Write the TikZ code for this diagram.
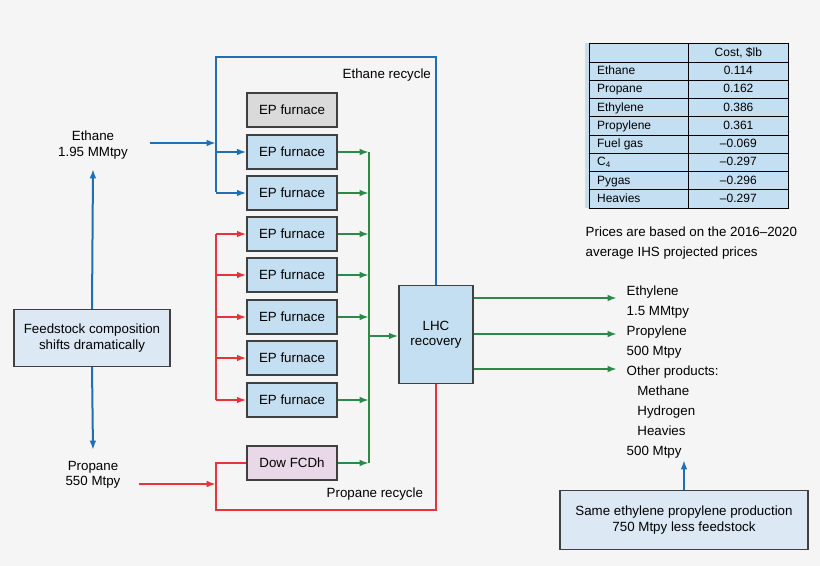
\documentclass[tikz,border=0pt]{standalone}
\usepackage{fontspec}
\setmainfont{Liberation Sans}
\usepackage{array}
\usetikzlibrary{arrows.meta}
\definecolor{bg}{HTML}{F5F5F5}
\definecolor{ethblue}{HTML}{1F6FB5}
\definecolor{proped}{HTML}{E8333A}
\definecolor{prodgreen}{HTML}{2A8A4A}
\definecolor{boxblue}{HTML}{C5DFF2}
\definecolor{boxgray}{HTML}{DADADA}
\definecolor{boxpink}{HTML}{E8D8E8}
\definecolor{notefill}{HTML}{DCE9F5}
\tikzset{
	unit/.style={draw=black!75, line width=1pt, fill=boxblue, minimum width=67.5pt, minimum height=25.5pt, inner sep=0pt, align=center, font=\fontsize{10}{11}\selectfont},
	note/.style={draw=black!75, line width=0.8pt, fill=notefill, align=center, font=\fontsize{10}{11.5}\selectfont},
	label/.style={align=center, font=\fontsize{10}{11.5}\selectfont},
	flow/.style={line width=1.5pt, -{Latex[length=7pt,width=5pt]}},
	line/.style={line width=1.5pt}
}
\begin{document}
\begin{tikzpicture}[x=0.75pt,y=-0.75pt]
	\fill[bg] (0,0) rectangle (820,566);
	% feed and notes
	\node (feedstock) [note, minimum width=117pt, minimum height=43pt] at (92,338) {Feedstock composition\\shifts dramatically};
	\node (ethane) [label] at (93,145) {Ethane\\1.95 MMtpy};
	\node (propane) [label] at (93,475) {Propane\\550 Mtpy};
	\node (same) [note, minimum width=186pt, minimum height=44pt] at (684,520) {Same ethylene propylene production\\750 Mtpy less feedstock};
	% furnaces
	\node (f0) [unit, fill=boxgray] at (292,110) {EP furnace};
	\foreach \n/\y in {1/152,2/193,3/234,4/275,5/317,6/358,7/400}
		\node (f\n) [unit] at (292,\y) {EP furnace};
	\node (dow) [unit, fill=boxpink] at (292,463) {Dow FCDh};
	\node (lhc) [unit, minimum width=55.5pt, minimum height=73pt] at (436,334.5) {LHC\\recovery};
	% ethane lines
	\coordinate (ej) at (216,143);
	\draw[flow, ethblue] (150,143) -- (ej);
	\draw[line, ethblue] (216,192) -- (216,57) -- (lhc.north |- 0,57) -- (lhc.north);
	\foreach \n in {1,2}
		\draw[flow, ethblue] (216,0 |- f\n.west) -- (f\n.west);
	\node [label, anchor=west] at (338,75) {Ethane recycle};
	% propane lines
	\draw[line, proped] (216,234) -- (216,400);
	\foreach \n in {3,...,7}
		\draw[flow, proped] (216,0 |- f\n.west) -- (f\n.west);
	\draw[flow, proped] (propane.east |- 0,484) ++(14,0) -- (216,484);
	\draw[line, proped] (dow.west) -- (216,463) -- (216,510) -- (lhc.south |- 0,510) -- (lhc.south);
	\node [label, anchor=west] at (322,494) {Propane recycle};
	% product collection
	\draw[line, prodgreen] (369,152) -- (369,463);
	\foreach \n in {f1,f2,f3,f4,f5,f7,dow}
		\draw[flow, prodgreen] (\n.east) -- (369,0 |- \n.east);
	\draw[flow, prodgreen] (369,336) -- (lhc.west |- 0,336);
	\foreach \y in {298,334,369}
		\draw[flow, prodgreen] (lhc.east |- 0,\y) -- (617,\y);
	\node (products) [anchor=north west, align=left, font=\fontsize{10}{15}\selectfont] at (622,281) {Ethylene\\1.5 MMtpy\\Propylene\\500 Mtpy\\Other products:\\\hspace{8pt}Methane\\\hspace{8pt}Hydrogen\\\hspace{8pt}Heavies\\500 Mtpy};
	% feedstock arrows
	\draw[flow, ethblue] (feedstock.north) -- (93,169);
	\draw[flow, ethblue] (feedstock.south) -- (93,450);
	\draw[flow, ethblue] (same.north) -- (684,460);
	% price table
	\node (prices) [anchor=north west, inner sep=0pt, fill=boxblue, font=\fontsize{9}{10}\selectfont] at (585,43) {
		\def\arraystretch{1.33}
		\begin{tabular}{|p{62pt}|>{\centering\arraybackslash}p{63pt}|}
			\hline
			& Cost, \$lb \\ \hline
			Ethane & 0.114 \\ \hline
			Propane & 0.162 \\ \hline
			Ethylene & 0.386 \\ \hline
			Propylene & 0.361 \\ \hline
			Fuel gas & --0.069 \\ \hline
			C\textsubscript{4} & --0.297 \\ \hline
			Pygas & --0.296 \\ \hline
			Heavies & --0.297 \\ \hline
		\end{tabular}
	};
	\node (caption) [anchor=north west, align=left, font=\fontsize{10}{15}\selectfont] at (581,222) {Prices are based on the 2016--2020\\average IHS projected prices};
\end{tikzpicture}
\end{document}
